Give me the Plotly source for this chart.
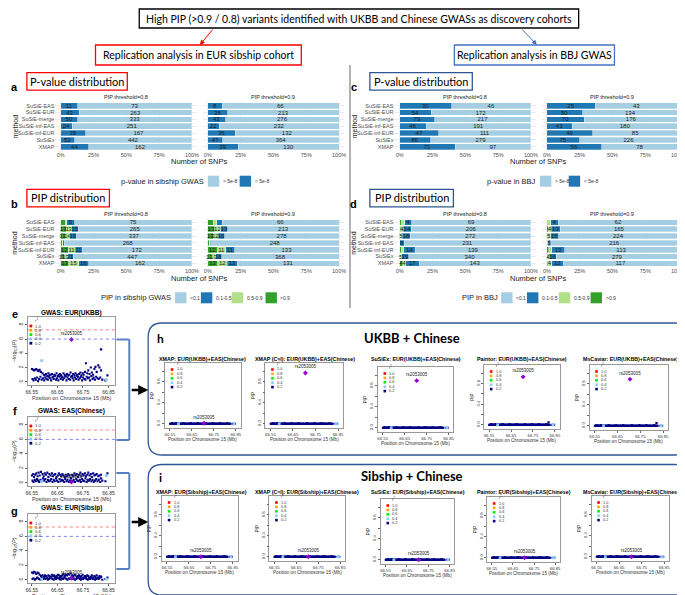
import plotly.graph_objects as go

W, H = 685, 595
SANS = "Liberation Sans, Arial, sans-serif"
CAL = "Lato, Open Sans, sans-serif"

# ---------------- data ----------------
methods = ["SuSiE-EAS", "SuSiE-EUR", "SuSiE-merge", "SuSiE-inf-EAS",
           "SuSiE-inf-EUR", "SuSiEx", "XMAP"]

# a: p-value in sibship GWAS (counts)  [< 5e-8, > 5e-8]
a08_sig = [11, 43, 50, 24, 39, 52, 44]
a08_non = [73, 263, 333, 251, 167, 442, 162]
a09_sig = [8, 38, 43, 22, 35, 47, 39]
a09_non = [66, 213, 276, 232, 132, 364, 130]
# c: p-value in BBJ
c08_sig = [30, 54, 79, 48, 47, 86, 71]
c08_non = [46, 172, 217, 191, 111, 279, 97]
c09_sig = [25, 50, 70, 43, 46, 75, 56]
c09_non = [43, 134, 176, 180, 85, 226, 78]
# b: PIP in sibship GWAS  [>0.9, 0.5-0.9, 0.1-0.5, <0.1]
b08_g09 = [3, 13, 13, 3, 12, 13, 13]
b08_g05 = [1, 13, 14, 1, 11, 13, 15]
b08_g01 = [5, 15, 19, 3, 11, 21, 16]
b08_l01 = [75, 265, 337, 268, 172, 447, 162]
b09_g09 = [3, 13, 13, 3, 12, 12, 13]
b09_g05 = [2, 12, 12, 1, 11, 13, 12]
b09_g01 = [3, 13, 16, 2, 11, 18, 13]
b09_l01 = [66, 213, 278, 248, 133, 368, 131]
# d: PIP in BBJ
d08_g09 = [1, 2, 1, 0, 2, 1, 4]
d08_g05 = [2, 4, 5, 0, 3, 5, 4]
d08_g01 = [4, 14, 18, 8, 14, 19, 17]
d08_l01 = [69, 206, 272, 231, 139, 340, 143]
d09_g09 = [0, 2, 2, 1, 2, 2, 1]
d09_g05 = [2, 4, 5, 1, 3, 4, 4]
d09_g01 = [4, 13, 15, 5, 13, 16, 12]
d09_l01 = [62, 165, 224, 216, 113, 279, 117]

pval_names = ["< 5e-8", "> 5e-8"]
pip_names = [">0.9", "0.5-0.9", "0.1-0.5", "<0.1"]
pval_colors = ["#1f78b4", "#a6cee3"]
pip_colors = ["#33a02c", "#b2df8a", "#1f78b4", "#a6cee3"]

# locus SNP positions (Mb)
pos_a = [66.551, 66.556, 66.559, 66.564, 66.568, 66.573, 66.577, 66.581, 66.586, 66.592,
         66.597, 66.601, 66.606, 66.611, 66.615, 66.619, 66.624, 66.629, 66.633, 66.638,
         66.642, 66.647, 66.652, 66.656, 66.661, 66.665, 66.670, 66.674, 66.679, 66.683,
         66.688, 66.693, 66.697, 66.702, 66.708, 66.712, 66.717, 66.721, 66.726, 66.731,
         66.735, 66.740, 66.744, 66.749, 66.753, 66.758, 66.762, 66.767, 66.771, 66.776,
         66.781, 66.785, 66.790, 66.795, 66.799, 66.804, 66.810, 66.815, 66.821, 66.846]
pos_b = [66.553, 66.557, 66.562, 66.566, 66.571, 66.575, 66.579, 66.584, 66.589, 66.594,
         66.599, 66.603, 66.608, 66.613, 66.617, 66.622, 66.626, 66.631, 66.636, 66.640,
         66.645, 66.649, 66.654, 66.659, 66.663, 66.668, 66.672, 66.677, 66.681, 66.686,
         66.690, 66.695, 66.700, 66.704, 66.710, 66.714, 66.719, 66.724, 66.728, 66.733,
         66.738, 66.742, 66.747, 66.751, 66.756, 66.760, 66.765, 66.769, 66.774, 66.778,
         66.783, 66.788, 66.792, 66.797, 66.802, 66.807, 66.812, 66.818, 66.826, 66.838]
# -log10(P)
e_a = [1.8, 1.7, 1.6, 1.7, 1.8, 1.6, 1.5, 1.7, 1.4, 1.2,
       1.0, 0.9, 1.1, 0.8, 1.2, 0.9, 1.0, 1.1, 0.7, 1.0,
       0.9, 1.2, 0.8, 1.0, 1.1, 0.9, 0.7, 1.2, 1.0, 0.8,
       1.1, 0.9, 1.0, 1.3, 0.8, 1.1, 0.9, 1.2, 1.0, 0.7,
       1.1, 1.3, 0.9, 1.2, 1.0, 1.4, 2.6, 1.2, 1.6, 1.1,
       2.0, 1.3, 1.0, 1.8, 2.1, 1.4, 2.3, 2.0, 1.6, 0.9]
e_b = [0.4, 0.2, 0.5, 0.3, 0.6, 0.1, 0.4, 0.7, 0.3, 0.5,
       0.2, 0.6, 0.4, 0.3, 0.7, 0.5, 0.2, 0.6, 0.4, 0.8,
       0.3, 0.5, 0.2, 0.7, 0.4, 0.6, 0.3, 0.5, 0.8, 0.2,
       0.6, 0.4, 0.3, 0.7, 0.5, 0.2, 0.6, 0.4, 0.8, 0.3,
       0.5, 0.7, 0.2, 0.6, 0.4, 0.3, 0.7, 0.5, 0.6, 0.2,
       0.8, 0.4, 0.6, 0.3, 0.7, 0.5, 0.4, 0.6, 0.3, 0.2]
f_a = [1.0, 1.2, 0.8, 1.1, 1.3, 0.9, 1.4, 1.0, 1.5, 1.2,
       0.9, 1.3, 1.1, 1.4, 0.8, 1.2, 1.0, 1.3, 0.9, 1.1,
       1.2, 0.8, 1.0, 1.3, 1.1, 0.9, 1.2, 1.0, 0.8, 1.1,
       0.9, 1.2, 1.0, 0.7, 1.1, 0.9, 1.3, 1.0, 1.2, 0.8,
       1.1, 1.4, 0.9, 1.2, 1.0, 1.3, 0.9, 1.1, 1.4, 1.0,
       1.2, 0.8, 1.3, 1.0, 1.1, 1.2, 0.9, 1.0, 1.1, 1.3]
f_b = [0.3, 0.1, 0.4, 0.2, 0.5, 0.3, 0.1, 0.4, 0.2, 0.6,
       0.3, 0.5, 0.1, 0.4, 0.2, 0.3, 0.5, 0.1, 0.4, 0.2,
       0.6, 0.3, 0.1, 0.5, 0.2, 0.4, 0.3, 0.1, 0.5, 0.2,
       0.4, 0.1, 0.3, 0.6, 0.2, 0.4, 0.1, 0.5, 0.3, 0.2,
       0.4, 0.1, 0.5, 0.3, 0.2, 0.6, 0.1, 0.4, 0.3, 0.5,
       0.2, 0.4, 0.1, 0.3, 0.5, 0.2, 0.4, 0.1, 0.3, 0.2]
g_a = [1.0, 0.9, 1.1, 1.0, 0.8, 1.0, 0.9, 0.7, 0.5, 0.6,
       0.4, 0.6, 0.5, 0.3, 0.6, 0.5, 0.4, 0.7, 0.5, 0.6,
       0.4, 0.5, 0.7, 0.6, 0.4, 0.5, 0.6, 0.8, 0.5, 0.7,
       0.6, 0.8, 0.7, 0.9, 0.6, 0.5, 0.7, 0.6, 0.4, 0.5,
       0.6, 0.4, 0.5, 0.7, 0.3, 0.5, 0.4, 0.6, 0.5, 0.3,
       0.4, 0.6, 0.3, 0.5, 0.4, 0.6, 0.3, 0.5, 0.4, 0.3]
g_b = [0.1, 0.2, 0.0, 0.1, 0.3, 0.2, 0.1, 0.0, 0.2, 0.1,
       0.3, 0.1, 0.2, 0.0, 0.1, 0.2, 0.3, 0.1, 0.0, 0.2,
       0.1, 0.3, 0.2, 0.1, 0.0, 0.2, 0.1, 0.3, 0.2, 0.1,
       0.0, 0.2, 0.1, 0.3, 0.1, 0.2, 0.0, 0.1, 0.2, 0.3,
       0.1, 0.0, 0.2, 0.1, 0.3, 0.2, 0.1, 0.0, 0.2, 0.1,
       0.3, 0.1, 0.2, 0.0, 0.1, 0.2, 0.1, 0.3, 0.0, 0.1]
lead_snp = "rs2053005"
lead_pos = 66.705
lb_pos = [66.589, 66.842]          # SNPs with r2 ~0.4
extra_pos = 66.821                 # isolated SNP east of lead
gwas_lead = [5.95, 0.1, 0.2]       # e, f, g
gwas_lb = [[2.98, 0.3], [0.2, 1.0], [0.05, 0.1]]
gwas_extra = [4.55, 0.6, 0.4]
gwas_titles = ["GWAS: EUR(UKBB)", "GWAS: EAS(Chinese)", "GWAS: EUR(Sibsip)"]

pip_bg = [0.00, 0.00, 0.01, 0.00, 0.00, 0.00, 0.01, 0.00, 0.00, 0.00,
          0.00, 0.00, 0.00, 0.01, 0.00, 0.00, 0.00, 0.00, 0.00, 0.00,
          0.01, 0.00, 0.00, 0.00, 0.00, 0.00, 0.00, 0.01, 0.00, 0.00,
          0.00, 0.00, 0.00, 0.00, 0.00, 0.01, 0.00, 0.00, 0.00, 0.00,
          0.00, 0.00, 0.01, 0.00, 0.00, 0.00, 0.00, 0.00, 0.00, 0.01,
          0.00, 0.00, 0.00, 0.00, 0.00, 0.00, 0.01, 0.00, 0.00, 0.00]
fm_methods = ["XMAP", "XMAP (C=I)", "SuSiEx", "Paintor", "MsCaviar"]
h_lead_pip = [0.01, 0.97, 0.90, 0.93, 0.89]
h_extra_pip = [0.00, 0.00, 0.00, 0.05, 0.05]
i_lead_pip = [0.00, 0.00, 0.00, 0.00, 0.00]
i_extra_pip = [0.00, 0.00, 0.00, 0.00, 0.00]

r2_colors = ["#FF0000", "#FFA500", "#00EE00", "#87CEFA", "#000080"]
r2_labels = ["1.0", "0.8", "0.6", "0.4", "0.2"]
NAVY, LB, PURPLE = "#000080", "#87CEFA", "#9400D3"
XTITLE = "Position on Chromosome 15 (Mb)"

# ---------------- helpers ----------------
def fx(p): return p / W
def fy(p): return 1 - p / H

fig = go.Figure()
layout = dict(width=W, height=H, margin=dict(l=0, r=0, t=0, b=0),
              paper_bgcolor="white", plot_bgcolor="white", showlegend=False,
              barmode="stack", barnorm="percent",
              uniformtext=dict(minsize=6, mode="show"),
              font=dict(family=SANS))
annotations, shapes = [], []
nax = [0]

def axes(x0, x1, y0, y1, xo, yo):
    nax[0] += 1
    s = "" if nax[0] == 1 else str(nax[0])
    layout["xaxis" + s] = dict(domain=[fx(x0), fx(x1)], anchor="y" + s, fixedrange=True, **xo)
    layout["yaxis" + s] = dict(domain=[fy(y1), fy(y0)], anchor="x" + s, fixedrange=True, **yo)
    return "x" + s, "y" + s

def text(px, py, s, size, color="black", family=SANS, bold=False, xanchor="center", angle=0):
    if bold:
        s = "<b>" + s + "</b>"
    annotations.append(dict(x=fx(px), y=fy(py), xref="paper", yref="paper", text=s,
                            showarrow=False, font=dict(size=size, color=color, family=family),
                            xanchor=xanchor, yanchor="middle", textangle=angle, borderpad=0))

def rect(x0, y0, x1, y1, line=None, fill=None, lw=1.0):
    shapes.append(dict(type="rect", xref="paper", yref="paper", x0=fx(x0), x1=fx(x1),
                       y0=fy(y1), y1=fy(y0),
                       line=dict(color=line if line else "rgba(0,0,0,0)", width=lw if line else 0),
                       fillcolor=fill if fill else "rgba(0,0,0,0)"))

def seg(x0, y0, x1, y1, color, w):
    shapes.append(dict(type="line", xref="paper", yref="paper", x0=fx(x0), y0=fy(y0),
                       x1=fx(x1), y1=fy(y1), line=dict(color=color, width=w)))

def arrow(x0, y0, x1, y1, color, w, size=1.0):
    annotations.append(dict(x=fx(x1), y=fy(y1), ax=x0 - x1, ay=y0 - y1, xref="paper", yref="paper",
                            axref="pixel", ayref="pixel", showarrow=True, arrowhead=2,
                            arrowsize=size, arrowwidth=w, arrowcolor=color, text=""))

def rrect(x0, y0, x1, y1, r, color, w):
    X = lambda v: f"{fx(v):.5f}"
    Y = lambda v: f"{fy(v):.5f}"
    p = (f"M {X(x0+r)},{Y(y0)} L {X(x1-r)},{Y(y0)} Q {X(x1)},{Y(y0)} {X(x1)},{Y(y0+r)} "
         f"L {X(x1)},{Y(y1-r)} Q {X(x1)},{Y(y1)} {X(x1-r)},{Y(y1)} "
         f"L {X(x0+r)},{Y(y1)} Q {X(x0)},{Y(y1)} {X(x0)},{Y(y1-r)} "
         f"L {X(x0)},{Y(y0+r)} Q {X(x0)},{Y(y0)} {X(x0+r)},{Y(y0)} Z")
    shapes.append(dict(type="path", xref="paper", yref="paper", path=p,
                       line=dict(color=color, width=w)))

# ---------------- header boxes ----------------
rect(130, 1, 572, 20, line="black", lw=1.3)
text(351, 10.5, "High PIP (>0.9 / 0.8) variants identified with UKBB and Chinese GWASs as discovery cohorts",
     10.5, "black", CAL)
rect(86, 37, 293, 57, line="#ff0000", lw=1.3)
text(189.5, 47, "Replication analysis in EUR sibship cohort", 10.5, "black", CAL)
rect(447, 37, 608, 57, line="#4472c4", lw=1.3)
text(527.5, 47, "Replication analysis in BBJ GWAS", 10.5, "black", CAL)
arrow(205, 20, 191, 37, "#ff0000", 1.0, 1.0)
arrow(514, 20, 530, 37, "#4472c4", 1.0, 1.0)
seg(342, 57, 342, 300, "#9a9a9a", 1.5)

# ---------------- bar panels ----------------
def bar_facet(x0, x1, y0, y1, series, colors, ylabels):
    xa, ya = axes(x0, x1, y0, y1,
                  dict(range=[-4, 104], tickvals=[0, 25, 50, 75, 100],
                       ticktext=["0%", "25%", "50%", "75%", "100%"],
                       tickfont=dict(size=5.5, color="#4d4d4d", family=SANS),
                       showgrid=True, gridcolor="#ebebeb", gridwidth=0.6,
                       zeroline=False, showline=False, ticks=""),
                  dict(type="category", categoryorder="array", categoryarray=methods,
                       tickmode="array", tickvals=methods, ticktext=methods,
                       autorange="reversed", showgrid=True, gridcolor="#ebebeb", gridwidth=0.6,
                       showticklabels=ylabels, tickfont=dict(size=5.5, color="#4d4d4d", family=SANS),
                       ticks="", showline=False, zeroline=False))
    for vals, col in zip(series, colors):
        fig.add_trace(go.Bar(x=vals, y=methods, orientation="h", xaxis=xa, yaxis=ya,
                             marker=dict(color=col, line=dict(color="white", width=0.3)),
                             width=0.82, text=[str(v) if v >= 4 else "" for v in vals],
                             textposition="inside", insidetextanchor="middle", textangle=0,
                             textfont=dict(size=6, color="#1a1a1a", family=SANS),
                             hoverinfo="skip"))

def bar_panel(ox, top, s08, s09, colors, letter, title, boxcol, boxw, legend_title,
              legend_names, legend_layout):
    bx = ox + 17 + (4 if ox else 0)
    text(ox + 5, top - 26 + 7.5, letter, 11, "black", SANS, bold=True)
    rect(bx, top - 33, bx + boxw, top - 15.5, line=boxcol, lw=1.3)
    text(bx + boxw / 2, top - 24.5, title, 11, "black", CAL)
    lx0 = 51 + ox
    rx0 = 199 + ox
    bw = 132
    pad = bw * 0.04
    y0, y1 = top - 3.4, top + 6 * 6.85 + 3.4
    bar_facet(lx0 - pad, lx0 + bw + pad, y0, y1, s08, colors, True)
    bar_facet(rx0 - pad, rx0 + bw + pad, y0, y1, s09, colors, False)
    text(lx0 + bw / 2, top - 8.7, "PIP threshold=0.8", 5.5, "#1a1a1a")
    text(rx0 + bw / 2, top - 8.7, "PIP threshold=0.9", 5.5, "#1a1a1a")
    text(ox + 5, (y0 + y1) / 2, "method", 7, "#1a1a1a", angle=-90)
    text((lx0 + rx0 + bw) / 2, top + 56.3, "Number of SNPs", 7.5, "#1a1a1a")
    ly = top + 75.5
    tx, items = legend_layout
    text(tx, ly, legend_title, 7.5, "#1a1a1a", xanchor="right")
    for (kx, lab), col in zip(items, legend_names):
        rect(kx, ly - 5.5, kx + 11.5, ly + 5.5, fill=col)
    for (kx, lab) in items:
        text(kx + 14, ly, lab, 5, "#333", xanchor="left")

# a
bar_panel(0, 97.7, [a08_sig, a08_non], [a09_sig, a09_non], pval_colors, "a",
          "P-value distribution", "#ff0000", 101, "p-value in sibship GWAS",
          ["#a6cee3", "#1f78b4"], (196, [(199, pval_names[1]), (231, pval_names[0])]))
# b
bar_panel(0, 214.3, [b08_g09, b08_g05, b08_g01, b08_l01], [b09_g09, b09_g05, b09_g01, b09_l01],
          pip_colors, "b", "PIP distribution", "#ff0000", 83, "PIP in sibship GWAS",
          ["#a6cee3", "#1f78b4", "#b2df8a", "#33a02c"],
          (163, [(166, pip_names[3]), (192, pip_names[2]), (223, pip_names[1]), (257, pip_names[0])]))
# c
bar_panel(341, 97.7, [c08_sig, c08_non], [c09_sig, c09_non], pval_colors, "c",
          "P-value distribution", "#2f5597", 103, "p-value in BBJ",
          ["#a6cee3", "#1f78b4"], (530, [(533, pval_names[1]), (562, pval_names[0])]))
# d
bar_panel(341, 214.3, [d08_g09, d08_g05, d08_g01, d08_l01], [d09_g09, d09_g05, d09_g01, d09_l01],
          pip_colors, "d", "PIP distribution", "#2f5597", 84, "PIP in BBJ",
          ["#a6cee3", "#1f78b4", "#b2df8a", "#33a02c"],
          (492, [(494, pip_names[3]), (520, pip_names[2]), (552, pip_names[1]), (584, pip_names[0])]))

# ---------------- locus helpers ----------------
def r2_legend(sx, sy, dy, sq, fs):
    text(sx + 6, sy - 6.5, "r<sup>2</sup>", fs, "#333")
    for k, (c, l) in enumerate(zip(r2_colors, r2_labels)):
        yy = sy + k * dy
        rect(sx - sq / 2, yy - sq / 2, sx + sq / 2, yy + sq / 2, fill=c)
        text(sx + 3.5, yy, l, fs, "#333", xanchor="left")

def scatter_set(xa, ya, ys_a, ys_b, lb_y, extra_y, lead_y):
    fig.add_trace(go.Scatter(x=pos_a + pos_b, y=ys_a + ys_b, mode="markers", xaxis=xa, yaxis=ya,
                             marker=dict(symbol="square", size=2.1, color=NAVY), hoverinfo="skip"))
    fig.add_trace(go.Scatter(x=[extra_pos], y=[extra_y], mode="markers", xaxis=xa, yaxis=ya,
                             marker=dict(symbol="square", size=2.3, color=NAVY), hoverinfo="skip"))
    fig.add_trace(go.Scatter(x=lb_pos, y=lb_y, mode="markers", xaxis=xa, yaxis=ya,
                             marker=dict(symbol="square", size=2.8, color=LB), hoverinfo="skip"))
    fig.add_trace(go.Scatter(x=[lead_pos], y=[lead_y], mode="markers+text", xaxis=xa, yaxis=ya,
                             marker=dict(symbol="diamond", size=3.8, color=PURPLE),
                             text=[lead_snp], textposition="top center",
                             textfont=dict(size=4.5, color="#222"), hoverinfo="skip", cliponaxis=False))

def xaxis_opts(size, rng):
    return dict(range=rng, tickvals=[66.55, 66.65, 66.75, 66.85],
                tickfont=dict(size=size, color="#333"), ticks="outside", ticklen=2, tickwidth=0.5,
                tickcolor="#666", showline=True, mirror=True, linecolor="#999", linewidth=0.8,
                showgrid=False, zeroline=False)

# ---------------- e, f, g ----------------
gwas_boxes = [(309, 377, 305, 306), (409, 478, 403, 403), (506, 575, 500, 503)]
gvals = [(e_a, e_b), (f_a, f_b), (g_a, g_b)]
for k, ((y0, y1, ty, ly), (va, vb)) in enumerate(zip(gwas_boxes, gvals)):
    xa, ya = axes(18, 106, y0, y1, xaxis_opts(5, [66.535, 66.877]),
                  dict(range=[-0.45, 9.1], tickvals=[0, 2, 4, 6, 8], tickangle=-90,
                       tickfont=dict(size=5, color="#333"), ticks="outside", ticklen=2, tickwidth=0.5,
                       tickcolor="#666", showline=True, mirror=True, linecolor="#999", linewidth=0.8,
                       showgrid=False, zeroline=False,
                       title=dict(text="\u2212log<sub>10</sub>(<i>P</i>)", font=dict(size=5.5, color="#333"),
                                  standoff=1)))
    dref = xa + " domain"
    shapes.append(dict(type="line", xref=dref, yref=ya, x0=0, x1=1, y0=7.3, y1=7.3,
                       line=dict(color="#ff6666", width=0.8, dash="dot")))
    shapes.append(dict(type="line", xref=dref, yref=ya, x0=0, x1=1, y0=6, y1=6,
                       line=dict(color="#6666ff", width=0.8, dash="dot")))
    scatter_set(xa, ya, va, vb, gwas_lb[k], gwas_extra[k], gwas_lead[k])
    text(5, ly, "efg"[k], 11, "black", SANS, bold=True)
    text(62, ty, gwas_titles[k], 6.5, "black", SANS, bold=True)
    text(62, y1 + 12.5, XTITLE, 5.3, "#333")
    r2_legend(21, y0 + 9, 4.3, 2.8, 4.3)

# brackets and arrows
BC = "#5b7fc7"
seg(107, 331.5, 120, 331.5, BC, 2)
seg(120, 331.5, 120, 432, BC, 2)
seg(107, 432, 120, 432, BC, 2)
seg(107, 465, 120, 465, BC, 2)
seg(120, 465, 120, 561, BC, 2)
seg(107, 561, 120, 561, BC, 2)
arrow(121, 382, 139, 382, "black", 2.5, 0.8)
arrow(121, 514, 139, 514, "black", 2.5, 0.8)

# ---------------- h, i ----------------
rrect(139, 315, 683, 447, 14, "#2f5597", 1.3)
rrect(139, 456.5, 683, 587, 14, "#2f5597", 1.3)
text(151, 330, "h", 12, "black", CAL, bold=True)
text(404, 330, "UKBB + Chinese", 13, "black", CAL, bold=True)
text(151, 469, "i", 12, "black", CAL, bold=True)
text(404, 468, "Sibship + Chinese", 13, "black", CAL, bold=True)

h_boxes = [(156, 232, 355, 420), (257, 335, 355, 420), (370, 446, 359, 424),
           (477, 553, 357, 421), (583, 662, 357, 422)]
h_title_x = [194, 297, 408, 515, 624]
i_boxes = [(153, 229, 488, 553), (261, 337, 488, 553), (373, 447, 491, 556),
           (480, 553, 489, 554), (585, 663, 488, 553)]
i_title_x = [193, 299, 410, 517, 626]

def pip_row(boxes, title_x, title_y, cohort, lead_pips, extra_pips):
    for k, (x0, x1, y0, y1) in enumerate(boxes):
        xa, ya = axes(x0, x1, y0, y1, xaxis_opts(4.3, [66.528, 66.872]),
                      dict(range=[-0.08, 1.16], tickvals=[0, 0.2, 0.4, 0.6, 0.8, 1.0],
                           ticktext=["0.0", "", "0.4", "", "0.8", ""], tickangle=-90,
                           tickfont=dict(size=4.3, color="#333"), ticks="outside", ticklen=2,
                           tickwidth=0.5, tickcolor="#666", showline=True, mirror=True,
                           linecolor="#999", linewidth=0.8, showgrid=False, zeroline=False,
                           title=dict(text="PIP", font=dict(size=4.5, color="#333"), standoff=1)))
        scatter_set(xa, ya, pip_bg, pip_bg, [0.0, 0.0], extra_pips[k], lead_pips[k])
        text(title_x[k], title_y, fm_methods[k] + ": EUR(" + cohort + ")+EAS(Chinese)", 5.3,
             "black", SANS, bold=True)
        text((x0 + x1) / 2, y1 + 11.5, XTITLE, 4.6, "#333")
        r2_legend(x0 + 7, y0 + 6.5, 4.4, 2.6, 3.8)

pip_row(h_boxes, h_title_x, 350.5, "UKBB", h_lead_pip, h_extra_pip)
pip_row(i_boxes, i_title_x, 484.3, "Sibship", i_lead_pip, i_extra_pip)

layout["annotations"] = annotations
layout["shapes"] = shapes
fig.update_layout(**layout)
fig.write_html("out.html")
